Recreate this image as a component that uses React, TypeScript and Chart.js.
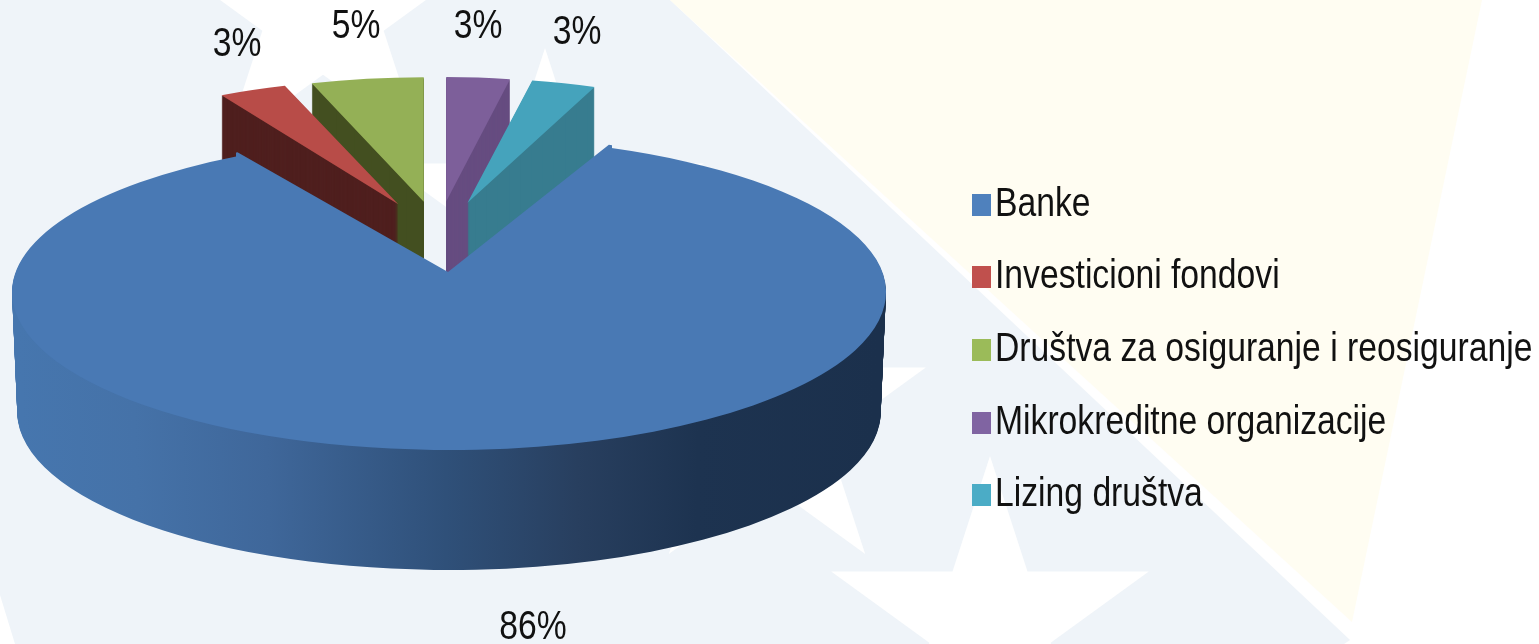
import React, { useEffect, useRef } from "react";
import { Chart, registerables } from "chart.js";

Chart.register(...registerables);

const categories = ["Banke", "Investicioni fondovi", "Društva za osiguranje i reosiguranje", "Mikrokreditne organizacije", "Lizing društva"];
const shares = [86, 3, 5, 3, 3];
const faceColors = ["#4979b4", "#b84c48", "#94b056", "#7d5f9a", "#45a3bc"];
const wallColors = ["#2f5079", "#4f1f1e", "#434f20", "#664c80", "#377c8f"];
const legendSwatches = ["#4f81bd", "#c0504d", "#9bbb59", "#8064a2", "#4bacc6"];
const explodePx = [0, 125, 125, 125, 125];
const firstSliceAngle = 21.6;

const W = 1539;
const H = 644;
const FONT = '33.7px "Liberation Sans"';
const TEXT_STRETCH = 1.2;
const labelAnchors = [
  [533, 628],
  [237, 45],
  [356, 27],
  [478, 27],
  [577, 33],
];
const legendRows = [205, 277, 350, 423, 495];
const starCenters = [
  [323, 11],
  [545, 215],
  [767, 419],
  [990, 623],
];
const farScaleX = [1, 0.84, 0.83, 0.78, 0.79];
const farShiftX = [0, 0, 0, -3, 0];

function polygon(ctx: CanvasRenderingContext2D, pts: number[][], color: string) {
  ctx.fillStyle = color;
  ctx.beginPath();
  pts.forEach(([x, y], i) => (i ? ctx.lineTo(x, y) : ctx.moveTo(x, y)));
  ctx.closePath();
  ctx.fill();
}

function star(cx: number, cy: number, r: number) {
  const pts: number[][] = [];
  for (let i = 0; i < 10; i++) {
    const rad = i % 2 ? r * 0.382 : r;
    const a = (i * Math.PI) / 5;
    pts.push([cx + rad * Math.sin(a), cy - rad * Math.cos(a)]);
  }
  return pts;
}

function paintArc(ctx: CanvasRenderingContext2D, arc: any, fill: any) {
  const saved = arc.options;
  arc.options = { ...saved, backgroundColor: fill, borderWidth: 0 };
  arc.draw(ctx);
  arc.options = saved;
}

const backdrop = {
  id: "backdrop",
  beforeDraw(chart: any) {
    const ctx = chart.ctx as CanvasRenderingContext2D;
    ctx.save();
    ctx.fillStyle = "#ffffff";
    ctx.fillRect(0, 0, W, H);
    polygon(ctx, [[0, 0], [670, 0], [1350, 640], [1344, 644], [0, 644]], "#eff4f9");
    polygon(ctx, [[670, 0], [1482, 0], [1352, 622]], "#fffdf2");
    starCenters.forEach(([x, y]) => polygon(ctx, star(x, y, 167), "#ffffff"));
    polygon(ctx, [[0, 595], [15, 644], [0, 644]], "#ffffff");
    ctx.restore();
  },
};

const pie3d = {
  id: "pie3d",
  beforeDatasetDraw(chart: any) {
    const ctx = chart.ctx as CanvasRenderingContext2D;
    const arcs = chart.getDatasetMeta(0).data;
    const depth = 120;

    // far slices: smaller and flatter, as they sit further back
    const far = (arc: any, i: number, d: number, fill: any) => {
      const mid = (arc.startAngle + arc.endAngle) / 2;
      ctx.save();
      ctx.translate(440 + farShiftX[i], 237 + d);
      ctx.scale(farScaleX[i], 0.285);
      ctx.translate(Math.cos(mid) * explodePx[i], Math.sin(mid) * explodePx[i]);
      ctx.translate(-arc.x, -arc.y);
      paintArc(ctx, arc, fill);
      ctx.restore();
    };
    [2, 3, 1, 4].forEach((i) => {
      for (let d = depth; d > 0; d--) far(arcs[i], i, d, wallColors[i]);
      far(arcs[i], i, 0, faceColors[i]);
    });

    // near slice: an ellipse centred lower than the visible tip
    const main = arcs[0];
    const split = 292;
    const near = (d: number, fill: any) => {
      const sx = 1 - d * 0.0001;
      [
        [0, split + d, 0.355],
        [split + d, H - split - d, 0.3616],
      ].forEach(([top, h, k]) => {
        ctx.save();
        ctx.beginPath();
        ctx.rect(0, top, W, h);
        ctx.clip();
        ctx.translate(449, split + d);
        ctx.scale(sx, k);
        ctx.translate(-main.x, -main.y);
        paintArc(ctx, main, fill);
        ctx.restore();
      });
    };
    const grad = ctx.createLinearGradient(main.x + 17 - 449, 0, main.x + 880 - 449, 0);
    grad.addColorStop(0, "#4676ae");
    grad.addColorStop(0.136, "#4572a8");
    grad.addColorStop(0.29, "#3f679a");
    grad.addColorStop(0.497, "#2f5079");
    grad.addColorStop(0.65, "#283f5f");
    grad.addColorStop(0.79, "#1d3350");
    grad.addColorStop(1, "#1b304c");
    for (let d = depth; d > 0; d--) near(d, grad);
    near(0, faceColors[0]);
    // raises the wedge's tip to where the reference shows it
    ctx.save();
    ctx.beginPath();
    ctx.rect(236, 0, 376, split);
    ctx.clip();
    ctx.translate(448, 272);
    ctx.scale(1, 0.313);
    ctx.translate(-main.x, -main.y);
    paintArc(ctx, main, faceColors[0]);
    ctx.restore();
    return false;
  },
  afterDatasetsDraw(chart: any) {
    const ctx = chart.ctx as CanvasRenderingContext2D;
    ctx.save();
    ctx.font = FONT;
    ctx.fillStyle = "#111111";
    ctx.textBaseline = "middle";
    const stretched = (text: string, x: number, y: number) => {
      ctx.save();
      ctx.translate(x, y);
      ctx.scale(1, TEXT_STRETCH);
      ctx.fillText(text, 0, 0);
      ctx.restore();
    };
    ctx.textAlign = "center";
    shares.forEach((v, i) => stretched(`${v}%`, labelAnchors[i][0], labelAnchors[i][1]));
    ctx.textAlign = "left";
    categories.forEach((name, i) => {
      ctx.fillStyle = legendSwatches[i];
      ctx.fillRect(972, legendRows[i] - 11, 19, 22);
      ctx.fillStyle = "#111111";
      stretched(name, 995, legendRows[i]);
    });
    ctx.restore();
  },
};

export default function App() {
  const ref = useRef<HTMLCanvasElement>(null);
  useEffect(() => {
    const chart = new Chart(ref.current!, {
      type: "pie",
      data: {
        labels: categories,
        datasets: [{ data: shares, backgroundColor: faceColors, borderWidth: 0 }],
      },
      options: {
        responsive: false,
        animation: false,
        rotation: firstSliceAngle,
        radius: 437,
        plugins: { legend: { display: false }, tooltip: { enabled: false } },
      },
      plugins: [backdrop, pie3d],
    } as any);
    return () => chart.destroy();
  }, []);
  return (
    <canvas
      ref={ref}
      width={W}
      height={H}
      style={{ position: "absolute", left: 0, top: 0, width: W, height: H, display: "block" }}
    />
  );
}
